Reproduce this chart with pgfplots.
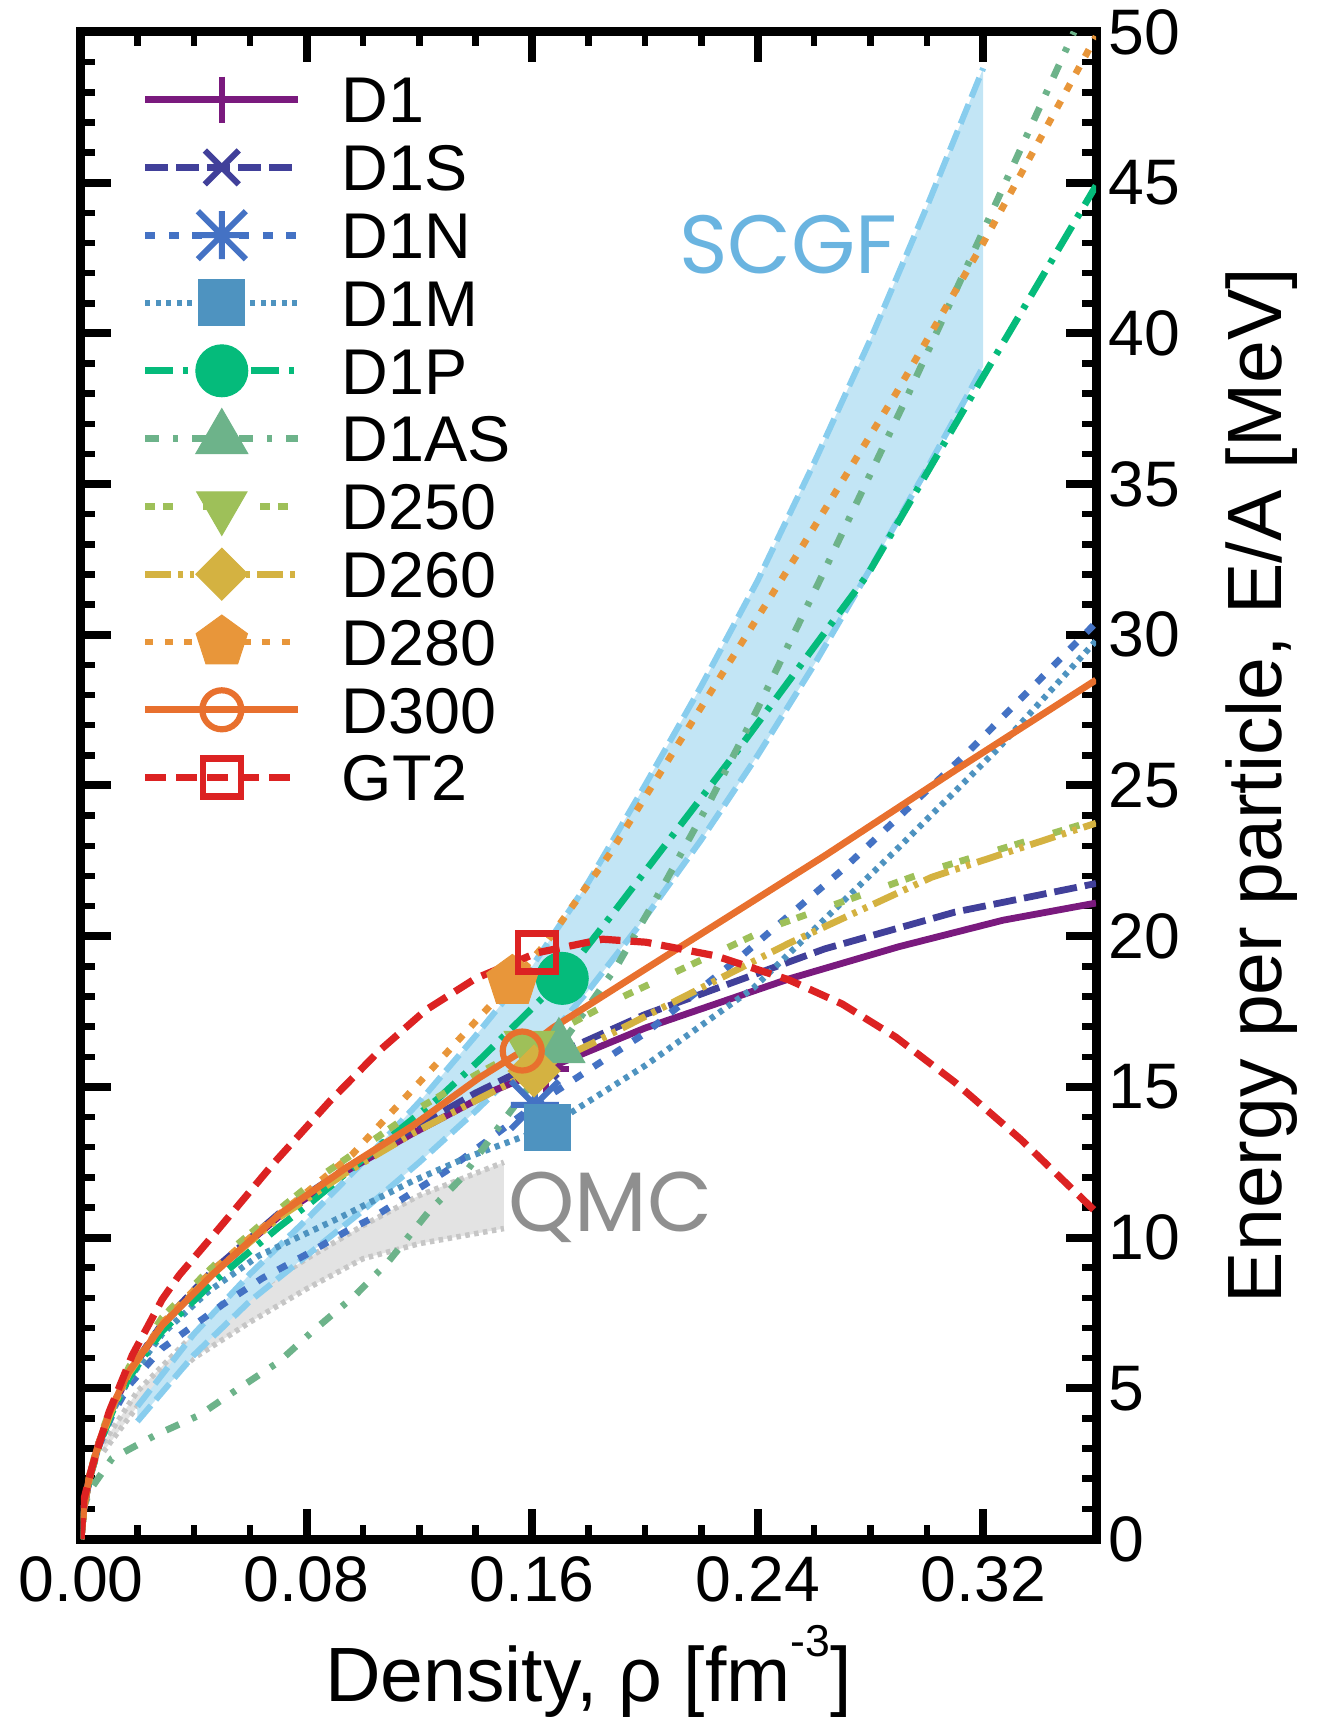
\documentclass[border=0pt]{standalone}
\usepackage{pgfplots}
\pgfplotsset{compat=1.18}
\usepackage{fontspec}
\setmainfont{Liberation Sans}
\newfontfamily\geo{Poppins}
\usetikzlibrary{plotmarks}

\definecolor{cD1}{HTML}{7A1A7E}
\definecolor{cD1S}{HTML}{41409A}
\definecolor{cD1N}{HTML}{4472C4}
\definecolor{cD1M}{HTML}{4E93C0}
\definecolor{cD1P}{HTML}{05BB7B}
\definecolor{cD1AS}{HTML}{6DB38A}
\definecolor{cDa}{HTML}{9EC059}
\definecolor{cDb}{HTML}{D4B241}
\definecolor{cDc}{HTML}{E8963A}
\definecolor{cDd}{HTML}{E8702E}
\definecolor{cGT}{HTML}{DC2222}
\definecolor{scgfline}{HTML}{88CDEE}
\definecolor{scgffill}{HTML}{C2E5F5}
\definecolor{scgftext}{HTML}{6AB4E0}
\definecolor{qmcline}{HTML}{C6C6C6}
\definecolor{qmcfill}{HTML}{E3E3E3}
\definecolor{qmctext}{HTML}{8F8F8F}

\pgfdeclareplotmark{ast8}{%
 \pgfpathmoveto{\pgfqpoint{0pt}{\pgfplotmarksize}}\pgfpathlineto{\pgfqpoint{0pt}{-\pgfplotmarksize}}%
 \pgfpathmoveto{\pgfqpoint{\pgfplotmarksize}{0pt}}\pgfpathlineto{\pgfqpoint{-\pgfplotmarksize}{0pt}}%
 \pgfpathmoveto{\pgfqpoint{\pgfplotmarksize}{\pgfplotmarksize}}\pgfpathlineto{\pgfqpoint{-\pgfplotmarksize}{-\pgfplotmarksize}}%
 \pgfpathmoveto{\pgfqpoint{-\pgfplotmarksize}{\pgfplotmarksize}}\pgfpathlineto{\pgfqpoint{\pgfplotmarksize}{-\pgfplotmarksize}}%
 \pgfusepathqstroke}

\pgfplotsset{
 sD1/.style={cD1, line width=0.68mm, solid},
 sD1S/.style={cD1S, line width=0.68mm, dash pattern=on 2.3mm off 0.8mm},
 sD1N/.style={cD1N, line width=0.68mm, dash pattern=on 1.0mm off 1.35mm},
 sD1M/.style={cD1M, line width=0.62mm, dash pattern=on 0.5mm off 0.55mm},
 sD1P/.style={cD1P, line width=0.68mm, dash pattern=on 2.8mm off 1.0mm on 0.5mm off 1.0mm},
 sD1AS/.style={cD1AS, line width=0.68mm, dash pattern=on 1.4mm off 1.4mm on 0.5mm off 1.4mm},
 sDa/.style={cDa, line width=0.68mm, dash pattern=on 1.0mm off 0.75mm on 1.0mm off 3.0mm},
 sDb/.style={cDb, line width=0.68mm, dash pattern=on 2.6mm off 0.7mm on 0.45mm off 0.7mm on 0.45mm off 0.7mm},
 sDc/.style={cDc, line width=0.68mm, dash pattern=on 0.8mm off 1.15mm},
 sDd/.style={cDd, line width=0.68mm, solid},
 sGT/.style={cGT, line width=0.72mm, dash pattern=on 2.1mm off 1.0mm},
}

\begin{document}
\begin{tikzpicture}
\begin{axis}[name=ax, scale only axis, width=101.5mm, height=150.7mm,
 xmin=0, xmax=0.36, ymin=0, ymax=50,
 xtick={0,0.08,0.16,0.24,0.32}, minor x tick num=3,
 ytick={0,5,...,50}, minor y tick num=4,
 xtick pos=both, ytick pos=both,
 xticklabel pos=left, yticklabel pos=right,
 tick align=inside,
 major tick length=3.0mm, minor tick length=1.45mm,
 every tick/.style={black},
 major tick style={line width=0.8mm, black},
 minor tick style={line width=0.65mm, black},
 axis line style={line width=0.9mm, black},
 scaled x ticks=false,
 /pgf/number format/assume math mode=true,
 xticklabel style={/pgf/number format/fixed, /pgf/number format/fixed zerofill, /pgf/number format/precision=2, yshift=-0.5mm},
 tick label style={font=\fontsize{18.3}{18.3}\selectfont},
 label style={font=\fontsize{21.9}{21.9}\selectfont},
 xlabel={Density, ρ [fm\raisebox{4.5mm}{\fontsize{12.7}{12.7}\selectfont -3}]},
 xlabel style={at={([yshift=-16.27mm]axis description cs:0.5,0)}, anchor=base},
 ylabel={Energy per particle, E/A [MeV]},
 ylabel style={at={([xshift=18.53mm]axis description cs:1,0.5)}, anchor=base},
 legend image code/.code={\draw[mark repeat=2,mark phase=2,#1] plot coordinates {(0mm,0mm) (7.65mm,0mm) (15.3mm,0mm)};},
 legend cell align=left,
 legend style={draw=none, fill=none, at={(0,1)}, anchor=north west, xshift=6.07mm, yshift=-3.37mm,
   inner sep=0pt, outer sep=0pt, row sep=0pt, column sep=4.0mm,
   font=\fontsize{18.4}{18.4}\selectfont,
   nodes={inner sep=0pt, text height=5.725mm, text depth=1.055mm}},
]

% QMC band
\addplot[draw=none, fill=qmcfill, forget plot] coordinates {
 (0.008,3.2)(0.02,4.9)(0.04,6.8)(0.06,8.1)(0.08,9.3)(0.10,10.4)(0.12,11.4)(0.15,12.5)
 (0.15,10.3)(0.12,9.8)(0.10,9.3)(0.08,8.3)(0.06,7.2)(0.04,6.0)(0.02,4.4)(0.008,2.9)} -- cycle;
\addplot[qmcline, line width=0.55mm, dash pattern=on 0.45mm off 0.45mm, forget plot] coordinates {
 (0.008,3.2)(0.02,4.9)(0.04,6.8)(0.06,8.1)(0.08,9.3)(0.10,10.4)(0.12,11.4)(0.15,12.5)};
\addplot[qmcline, line width=0.55mm, dash pattern=on 0.45mm off 0.45mm, forget plot] coordinates {
 (0.008,2.9)(0.02,4.4)(0.04,6.0)(0.06,7.2)(0.08,8.3)(0.10,9.3)(0.12,9.8)(0.15,10.3)};

% SCGF band
\addplot[draw=none, fill=scgffill, forget plot] coordinates {
 (0.02,4.4)(0.03,5.6)(0.04,6.8)(0.06,8.8)(0.08,10.6)(0.10,12.5)(0.12,14.5)(0.14,16.7)(0.16,19.0)(0.18,21.8)(0.20,25.0)(0.22,28.3)(0.24,31.8)(0.26,35.7)(0.28,39.8)(0.30,44.2)(0.32,48.8)
 (0.32,38.9)(0.30,35.5)(0.28,32.2)(0.26,29.0)(0.24,26.0)(0.22,23.2)(0.20,20.6)(0.18,18.2)(0.16,16.0)(0.14,14.2)(0.12,12.5)(0.10,10.9)(0.08,9.4)(0.06,7.9)(0.04,6.1)(0.03,5.0)(0.02,3.9)} -- cycle;
\addplot[scgfline, line width=0.6mm, dash pattern=on 2.1mm off 0.75mm, forget plot] coordinates {
 (0.02,4.4)(0.03,5.6)(0.04,6.8)(0.06,8.8)(0.08,10.6)(0.10,12.5)(0.12,14.5)(0.14,16.7)(0.16,19.0)(0.18,21.8)(0.20,25.0)(0.22,28.3)(0.24,31.8)(0.26,35.7)(0.28,39.8)(0.30,44.2)(0.32,48.8)};
\addplot[scgfline, line width=0.6mm, dash pattern=on 2.1mm off 0.75mm, forget plot] coordinates {
 (0.02,3.9)(0.03,5.0)(0.04,6.1)(0.06,7.9)(0.08,9.4)(0.10,10.9)(0.12,12.5)(0.14,14.2)(0.16,16.0)(0.18,18.2)(0.20,20.6)(0.22,23.2)(0.24,26.0)(0.26,29.0)(0.28,32.2)(0.30,35.5)(0.32,38.9)};

% curves
\addplot[sD1, forget plot] coordinates {(0,0)(0.001,1.0)(0.003,2.05)(0.0064,3.2)(0.011,4.3)(0.017,5.5)(0.0288,7.1)(0.0466,8.8)(0.0702,10.7)(0.0939,12.2)(0.1175,13.45)(0.147,14.9)(0.165,15.6)(0.2,16.95)(0.251,18.58)(0.29,19.65)(0.327,20.53)(0.36,21.1)};
\addplot[sD1S, forget plot] coordinates {(0,0)(0.001,1.0)(0.003,2.05)(0.0064,3.2)(0.011,4.3)(0.017,5.55)(0.0288,7.15)(0.0466,8.9)(0.0702,10.8)(0.0939,12.3)(0.1175,13.6)(0.14,14.8)(0.163,15.85)(0.2,17.4)(0.2638,19.58)(0.31,20.8)(0.36,21.75)};
\addplot[sD1N, forget plot] coordinates {(0,0)(0.001,1.0)(0.003,2.0)(0.0064,3.1)(0.011,4.1)(0.017,5.1)(0.0288,6.33)(0.0501,7.77)(0.0643,8.65)(0.0797,9.43)(0.0939,10.2)(0.1033,10.65)(0.1294,12.2)(0.1423,13.09)(0.161,14.4)(0.2004,16.8)(0.235,19.4)(0.27,22.2)(0.3145,26.1)(0.36,30.4)};
\addplot[sD1M, forget plot] coordinates {(0,0)(0.001,1.0)(0.003,2.0)(0.0064,3.1)(0.011,4.2)(0.017,5.3)(0.0288,6.8)(0.045,8.2)(0.0631,9.4)(0.0915,10.65)(0.1175,11.87)(0.1364,12.64)(0.1654,13.65)(0.2,15.7)(0.2385,18.28)(0.289,22.85)(0.325,26.2)(0.36,29.8)};
\addplot[sD1P, forget plot] coordinates {(0,0)(0.001,1.0)(0.003,2.0)(0.0064,3.1)(0.011,4.2)(0.017,5.35)(0.0288,6.9)(0.0466,8.5)(0.0702,10.35)(0.082,11.2)(0.1,12.6)(0.127,14.64)(0.141,15.86)(0.1707,18.6)(0.1878,20.65)(0.2334,26.23)(0.279,32.0)(0.3183,38.3)(0.36,44.9)};
\addplot[sD1AS, forget plot] coordinates {(0,0.3)(0.0005,0.9)(0.003,1.6)(0.011,2.67)(0.0265,3.45)(0.042,4.11)(0.056,5.0)(0.0702,5.88)(0.082,6.88)(0.0974,8.1)(0.109,9.2)(0.1234,10.87)(0.135,11.98)(0.15,13.9)(0.1695,16.3)(0.19,19.0)(0.2061,21.6)(0.2232,24.5)(0.2397,27.5)(0.2625,31.9)(0.2935,38.0)(0.32,43.4)(0.3493,49.4)(0.3522,50.0)};
\addplot[sDa, forget plot] coordinates {(0,0)(0.001,1.0)(0.003,2.1)(0.0064,3.3)(0.011,4.45)(0.017,5.7)(0.0288,7.35)(0.043,8.7)(0.0525,9.54)(0.0679,10.76)(0.0844,12.0)(0.1,13.0)(0.12,14.3)(0.14,15.4)(0.159,16.36)(0.1878,17.8)(0.2448,20.3)(0.3018,22.2)(0.36,23.85)};
\addplot[sDb, forget plot] coordinates {(0,0)(0.001,1.0)(0.003,2.0)(0.0064,3.15)(0.011,4.3)(0.017,5.5)(0.0288,7.1)(0.0466,8.8)(0.07,10.65)(0.094,12.15)(0.1175,13.45)(0.14,14.55)(0.1607,15.53)(0.1815,16.45)(0.251,19.76)(0.3018,21.96)(0.36,23.75)};
\addplot[sDc, forget plot] coordinates {(0,0)(0.001,1.0)(0.003,2.05)(0.0064,3.2)(0.011,4.35)(0.017,5.55)(0.0288,7.15)(0.0466,8.9)(0.06,10.0)(0.08,11.5)(0.0962,12.76)(0.12,15.15)(0.1412,17.3)(0.153,18.5)(0.1648,19.75)(0.1873,22.7)(0.22,27.6)(0.2556,32.9)(0.289,38.0)(0.32,43.0)(0.36,49.85)};
\addplot[sDd, forget plot] coordinates {(0,0)(0.001,1.0)(0.003,2.1)(0.0064,3.22)(0.011,4.4)(0.017,5.55)(0.0288,7.1)(0.0466,8.77)(0.0702,10.76)(0.0939,12.31)(0.1175,13.7)(0.1412,15.3)(0.1565,16.19)(0.1675,16.97)(0.2,18.9)(0.2638,22.67)(0.31,25.5)(0.36,28.5)};
\addplot[sGT, forget plot] coordinates {(0,0)(0.001,1.3)(0.004,2.4)(0.0099,4.2)(0.0182,6.1)(0.0288,7.95)(0.0348,8.75)(0.0489,10.3)(0.0679,12.42)(0.088,14.5)(0.1057,16.19)(0.1223,17.55)(0.14,18.6)(0.1618,19.45)(0.185,19.9)(0.2004,19.8)(0.225,19.35)(0.2511,18.55)(0.27,17.75)(0.289,16.65)(0.31,15.15)(0.3334,13.25)(0.36,10.85)};

% markers (and legend entries)
\addplot[sD1, mark=+, mark size=2.3mm, mark options={solid, line width=0.6mm}] coordinates {(0.165,15.6)};
\addlegendentry{D1}
\addplot[sD1S, mark=x, mark size=2.4mm, mark options={solid, line width=0.6mm}] coordinates {(0.163,15.85)};
\addlegendentry{D1S}
\addplot[sD1N, mark=ast8, mark size=2.4mm, mark options={solid, line width=0.6mm}] coordinates {(0.161,14.4)};
\addlegendentry{D1N}
\addplot[sD1M, mark=square*, mark size=2.3mm, mark options={solid, line width=0.1mm}] coordinates {(0.1654,13.65)};
\addlegendentry{D1M}
\addplot[sD1P, mark=*, mark size=2.6mm, mark options={solid, line width=0.1mm}] coordinates {(0.1707,18.6)};
\addlegendentry{D1P}
\addplot[sD1AS, mark=triangle*, mark size=3.0mm, mark options={solid, line width=0.1mm}] coordinates {(0.1695,16.3)};
\addlegendentry{D1AS}
\addplot[sDa, mark=triangle*, mark size=2.9mm, mark options={solid, line width=0.1mm, rotate=180}] coordinates {(0.159,16.36)};
\addlegendentry{D250}
\addplot[sDb, mark=square*, mark size=1.84mm, mark options={solid, line width=0.1mm, rotate=45}] coordinates {(0.1607,15.53)};
\addlegendentry{D260}
\addplot[sDc, mark=pentagon*, mark size=2.7mm, mark options={solid, line width=0.1mm}] coordinates {(0.153,18.5)};
\addlegendentry{D280}
\addplot[sDd, mark=o, mark size=1.95mm, mark options={solid, line width=0.62mm}] coordinates {(0.1565,16.19)};
\addlegendentry{D300}
\addplot[sGT, mark=square, mark size=1.9mm, mark options={solid, line width=0.66mm}] coordinates {(0.1618,19.45)};
\addlegendentry{GT2}

\node[anchor=base west, inner sep=0pt, text=scgftext, font=\geo\fontsize{23.5}{23.5}\selectfont] at (axis cs:0.2119,42.0) {SCGF};
\node[anchor=base west, inner sep=0pt, text=qmctext, font=\geo\fontsize{24}{24}\selectfont] at (axis cs:0.1512,10.2) {QMC};
\end{axis}
\pgfresetboundingbox
\path[use as bounding box] ([xshift=-8.1mm,yshift=-18.2mm]ax.south west) rectangle ([xshift=22.7mm,yshift=3.2mm]ax.north east);
\end{tikzpicture}
\end{document}
